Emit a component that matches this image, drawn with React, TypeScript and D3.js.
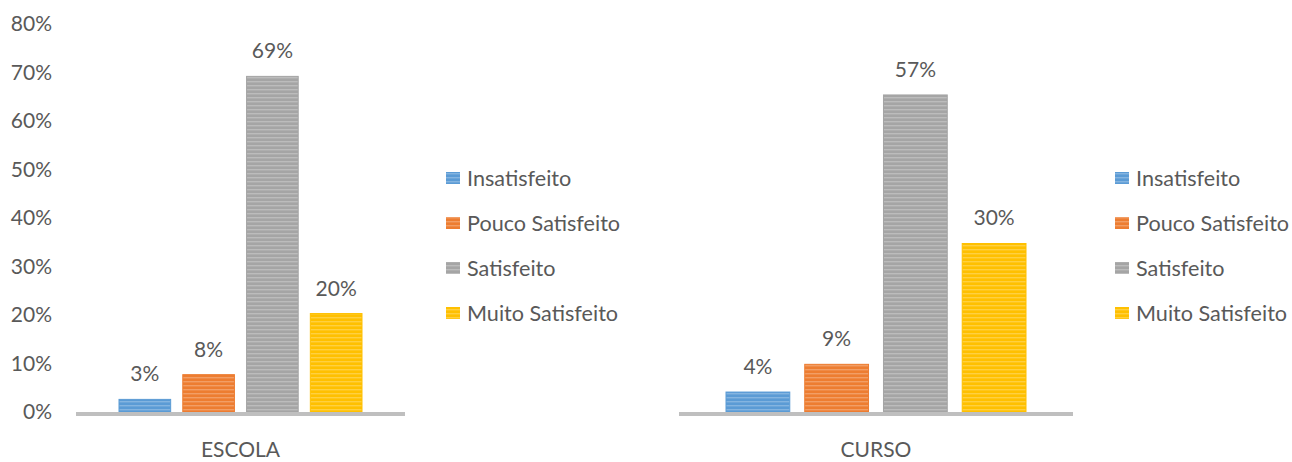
import React from 'react';
import * as d3 from 'd3';

const series = ['Insatisfeito', 'Pouco Satisfeito', 'Satisfeito', 'Muito Satisfeito'];
const colors = ['#5b9bd5', '#ed7d31', '#a5a5a5', '#ffc000'];
const escolaValues = [0.026, 0.077, 0.692, 0.203];
const cursoValues = [0.036, 0.086, 0.572, 0.304];
const yTicks = [0, 0.1, 0.2, 0.3, 0.4, 0.5, 0.6, 0.7, 0.8];

const FONT = 'Lato, Calibri, sans-serif';
const TEXT = '#595959';
const pct = (v: number) => `${Math.round(v * 100)}%`;

type PanelProps = {
  name: string;
  values: number[];
  axis: [number, number];
  bars: [number, number];
  yMax: number;
  showAxis: boolean;
  legendX: number;
};

function Panel({ name, values, axis, bars, yMax, showAxis, legendX }: PanelProps) {
  const base = 412;
  const y = d3.scaleLinear().domain([0, yMax]).range([base, 24]);
  const x = d3.scaleBand<string>().domain(series).range(bars).paddingInner(0.19).paddingOuter(0);
  const legendY = d3.scalePoint<string>().domain(series).range([178, 313]);
  const fmt = d3.format('.0%');

  return (
    <g>
      {showAxis &&
        yTicks.map((t) => (
          <text key={t} x={52} y={y(t)} dy="0.35em" textAnchor="end" fontSize={21} fill={TEXT} fontFamily={FONT}>
            {fmt(t)}
          </text>
        ))}
      {values.map((v, i) => (
        <g key={i}>
          <rect
            x={x(series[i])}
            y={y(v)}
            width={x.bandwidth()}
            height={base - y(v)}
            fill={`url(#pat${i})`}
            stroke={colors[i]}
            strokeWidth={1}
          />
          <text
            x={(x(series[i]) as number) + x.bandwidth() / 2}
            y={y(v) - 18}
            textAnchor="middle"
            fontSize={21}
            fill={TEXT}
            fontFamily={FONT}
          >
            {pct(v)}
          </text>
        </g>
      ))}
      <line x1={axis[0]} x2={axis[1]} y1={base + 2} y2={base + 2} stroke="#bfbfbf" strokeWidth={4} />
      <text x={(axis[0] + axis[1]) / 2} y={450} dy="0.35em" textAnchor="middle" fontSize={21} fill={TEXT} fontFamily={FONT}>
        {name}
      </text>
      {series.map((s, i) => (
        <g key={s}>
          <rect x={legendX} y={(legendY(s) as number) - 6} width={14} height={12} fill={`url(#pat${i})`} />
          <text x={legendX + 21} y={legendY(s)} dy="0.35em" fontSize={21.6} fill={TEXT} fontFamily={FONT}>
            {s}
          </text>
        </g>
      ))}
    </g>
  );
}

export default function App() {
  return (
    <svg width={1292} height={462} style={{ position: 'absolute', left: 0, top: 0, background: '#fff' }}>
      <defs>
        {colors.map((c, i) => (
          <pattern key={c} id={`pat${i}`} patternUnits="userSpaceOnUse" width={8} height={4}>
            <rect width={8} height={4} fill={c} />
            <rect y={1} width={8} height={1.4} fill="#fff" opacity={0.25} />
          </pattern>
        ))}
      </defs>
      <Panel name="ESCOLA" values={escolaValues} axis={[76, 405]} bars={[119, 362]} yMax={0.8} showAxis legendX={446} />
      <Panel name="CURSO" values={cursoValues} axis={[679, 1073]} bars={[726, 1026]} yMax={0.7} showAxis={false} legendX={1115} />
    </svg>
  );
}
